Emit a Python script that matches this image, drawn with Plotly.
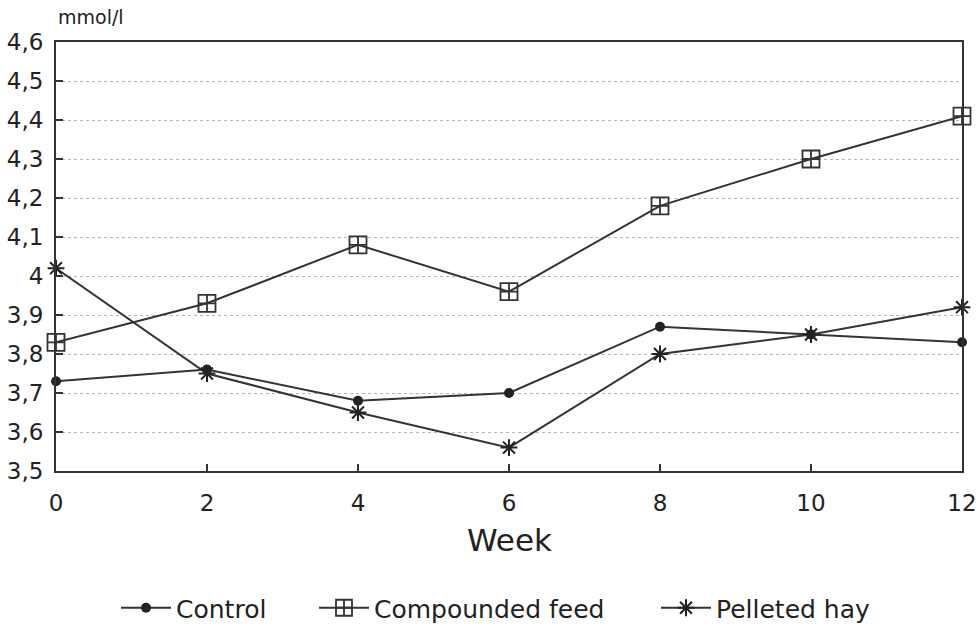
import plotly.graph_objects as go

weeks = [0, 2, 4, 6, 8, 10, 12]
control = [3.73, 3.76, 3.68, 3.70, 3.87, 3.85, 3.83]
compounded = [3.83, 3.93, 4.08, 3.96, 4.18, 4.30, 4.41]
pelleted = [4.02, 3.75, 3.65, 3.56, 3.80, 3.85, 3.92]

y_tickvals = [3.5, 3.6, 3.7, 3.8, 3.9, 4.0, 4.1, 4.2, 4.3, 4.4, 4.5, 4.6]
y_ticktext = ["3,5", "3,6", "3,7", "3,8", "3,9", "4", "4,1", "4,2", "4,3", "4,4", "4,5", "4,6"]
x_tickvals = [0, 2, 4, 6, 8, 10, 12]

LINE = "#333333"
FONT = "DejaVu Sans"
TXT = "#222222"

fig = go.Figure()
fig.add_trace(go.Scatter(
    x=weeks, y=control, name="Control", mode="lines+markers",
    line=dict(color=LINE, width=2),
    marker=dict(symbol="circle", size=10, color="#222"),
    cliponaxis=False, legend="legend"))
fig.add_trace(go.Scatter(
    x=weeks, y=compounded, name="Compounded feed", mode="lines+markers",
    line=dict(color=LINE, width=2),
    marker=dict(symbol="square-cross-open", size=17, color="#333", line=dict(width=1.8, color="#333")),
    cliponaxis=False, legend="legend2"))
fig.add_trace(go.Scatter(
    x=weeks, y=pelleted, name="Pelleted hay", mode="lines+markers",
    line=dict(color=LINE, width=2),
    marker=dict(symbol="asterisk-open", size=14, color="#222", line=dict(width=2, color="#222")),
    cliponaxis=False, legend="legend3"))

def leg(xpx):
    return dict(orientation="h", x=xpx / 978, xanchor="left", xref="container",
                y=1 - 608 / 625, yanchor="middle", yref="container",
                font=dict(family=FONT, size=25, color=TXT), itemwidth=50,
                bgcolor="rgba(0,0,0,0)")

fig.update_layout(
    width=978, height=625,
    margin=dict(l=56, r=16, t=42, b=154, autoexpand=False),
    paper_bgcolor="white", plot_bgcolor="white",
    font=dict(family=FONT, size=23, color=TXT),
    showlegend=True,
    legend=leg(116),
    legend2=leg(314),
    legend3=leg(656),
    xaxis=dict(range=[0, 12], tickvals=x_tickvals, showgrid=False, zeroline=False,
               showline=True, mirror=True, linecolor="#333", linewidth=2,
               ticks="inside", ticklen=7, tickcolor="#333", tickwidth=1.5,
               ticklabelstandoff=10, tickfont=dict(size=23, color=TXT)),
    yaxis=dict(range=[3.5, 4.6], tickvals=y_tickvals, ticktext=y_ticktext,
               showgrid=True, gridcolor="#b5b5b5", griddash="dot", gridwidth=1,
               zeroline=False, showline=True, mirror=True, linecolor="#333", linewidth=2,
               ticks="inside", ticklen=7, tickcolor="#333", tickwidth=1.5,
               ticklabelstandoff=6, tickfont=dict(size=23, color=TXT)),
    annotations=[
        dict(text="mmol/l", x=0, xref="paper", xanchor="left", y=1, yref="paper",
             yanchor="middle", yshift=25, showarrow=False,
             font=dict(family=FONT, size=19, color=TXT)),
        dict(text="Week", x=0.5, xref="paper", xanchor="center", y=0, yref="paper",
             yanchor="middle", yshift=-69, showarrow=False,
             font=dict(family=FONT, size=31, color=TXT)),
    ],
)

fig.write_html(
    "out.html",
    config={"displayModeBar": False},
    post_script="document.body.style.margin='0';document.body.style.overflow='hidden';",
)
